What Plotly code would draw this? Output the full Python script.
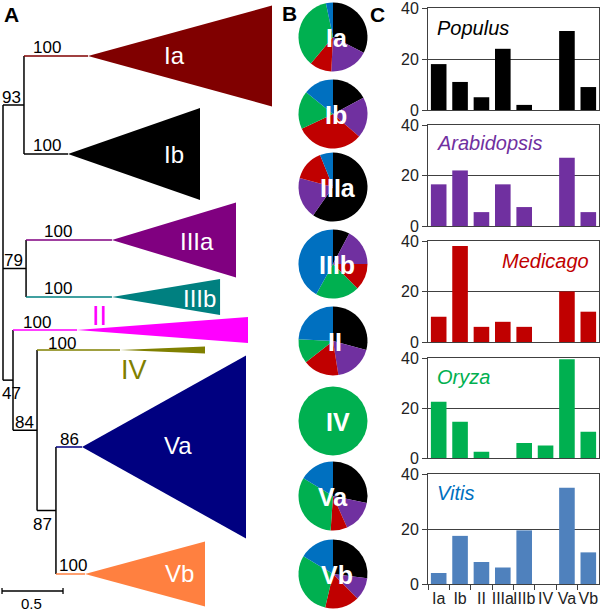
import plotly.graph_objects as go

# ---------------- Panel C: bar data (percent) ----------------
categories = ["Ia", "Ib", "II", "IIIa", "IIIb", "IV", "Va", "Vb"]
species = ["Populus", "Arabidopsis", "Medicago", "Oryza", "Vitis"]
populus = [18, 11, 5, 24, 2, 0, 31, 9]
arabidopsis = [16.5, 22, 5.5, 16.5, 7.5, 0, 27, 5.5]
medicago = [10, 38, 6, 8, 6, 0, 20, 12]
oryza = [22.5, 14.5, 2.5, 0, 6, 5, 39.5, 10.5]
vitis = [4, 17.5, 8, 6, 19.5, 0, 35, 11.5]
y_ticks = [0, 20, 40]

# ---------------- Panel B: pie data (share per clade, %) ----------------
pie_clades = ["Ia", "Ib", "IIIa", "IIIb", "II", "IV", "Va", "Vb"]
pie_populus = [32.5, 17.2, 59.7, 7.8, 29.2, 0, 28.3, 27.0]
pie_arabidopsis = [18.3, 19.2, 19.4, 17.2, 18.3, 0, 15.0, 10.6]
pie_medicago = [10.3, 31.7, 14.7, 12.5, 16.9, 0, 7.8, 16.1]
pie_oryza = [35.6, 17.8, 0, 20.6, 11.4, 100, 32.5, 30.0]
pie_vitis = [3.3, 14.2, 6.1, 41.9, 24.2, 0, 16.4, 16.4]

# ---------------- Panel A: tree data ----------------
clade_names = ["Ia", "Ib", "IIIa", "IIIb", "II", "IV", "Va", "Vb"]
clade_row = [56, 154, 240, 297, 330, 350, 447, 574]          # leaf order positions
clade_spread = [50.5, 46, 37.5, 18, 13, 3.5, 91.5, 32.5]      # clade size (triangle half-width)
clade_stem_depth = [0.697, 0.533, 0.893, 0.893, 0.607, 0.959, 0.648, 0.672]
clade_tip_depth = [2.205, 1.615, 1.910, 1.779, 2.008, 1.656, 1.992, 1.656]
clade_support = [100, 100, 100, 100, 100, 100, 86, 100]
node_names = ["root", "n93", "n79", "n47", "n84", "n87"]
node_depth = [0.0, 0.172, 0.189, 0.082, 0.279, 0.434]
node_support = [None, 93, 79, 47, 84, 87]
node_children = {
    "root": ["n93", "n79", "n47"],
    "n93": ["Ia", "Ib"],
    "n79": ["IIIa", "IIIb"],
    "n47": ["II", "n84"],
    "n84": ["IV", "n87"],
    "n87": ["Va", "Vb"],
}
scale_bar = 0.5

# ---------------- styles ----------------
FONT = "Liberation Sans, Arial, sans-serif"
clade_colors = {"Ia": "#800000", "Ib": "#000000", "IIIa": "#800080", "IIIb": "#008080",
                "II": "#FF00FF", "IV": "#808000", "Va": "#000080", "Vb": "#FF8040"}
bar_colors = ["#000000", "#7030A0", "#C00000", "#00B050", "#4F81BD"]
title_colors = ["#000000", "#7030A0", "#C00000", "#00B050", "#0070C0"]
pie_colors = ["#000000", "#7030A0", "#C00000", "#00B050", "#0070C0"]

W, H = 600, 611
fig = go.Figure()

# ---- tree geometry ----
depth = dict(zip(node_names, node_depth))
ypos = dict(zip(clade_names, clade_row))
for i, c in enumerate(clade_names):
    depth[c] = clade_stem_depth[i]


def node_y(n):
    if n in ypos:
        return ypos[n]
    ch = node_children[n]
    ys = [node_y(c) for c in ch]
    val = (ys[0] + ys[-1]) / 2
    ypos[n] = val
    return val


for n in node_names:
    node_y(n)

bx, by = [], []
stems = {}
for n in node_names:
    ch = node_children[n]
    ys = [ypos[c] for c in ch]
    bx += [depth[n], depth[n], None]
    by += [min(ys), max(ys), None]
    for c in ch:
        if c in clade_names:
            stems[c] = ([depth[n], depth[c]], [ypos[c], ypos[c]])
        else:
            bx += [depth[n], depth[c], None]
            by += [ypos[c], ypos[c], None]

fig.add_trace(go.Scatter(x=bx, y=by, mode="lines", line=dict(color="black", width=1.5),
                         hoverinfo="skip", showlegend=False, xaxis="x", yaxis="y"))
for i, c in enumerate(clade_names):
    sx, sy = stems[c]
    fig.add_trace(go.Scatter(x=sx, y=sy, mode="lines", line=dict(color=clade_colors[c], width=1.5),
                             hoverinfo="skip", showlegend=False, xaxis="x", yaxis="y"))
    a, t, y, h = clade_stem_depth[i], clade_tip_depth[i], clade_row[i], clade_spread[i]
    fig.add_trace(go.Scatter(x=[a, t, t, a], y=[y, y - h, y + h, y], mode="lines", fill="toself",
                             fillcolor=clade_colors[c], line=dict(width=0, color=clade_colors[c]),
                             hoverinfo="skip", showlegend=False, xaxis="x", yaxis="y"))

# scale bar
sb_x0, sb_y = -0.008, 591
fig.add_trace(go.Scatter(x=[sb_x0, sb_x0, None, sb_x0, sb_x0 + scale_bar, None,
                            sb_x0 + scale_bar, sb_x0 + scale_bar],
                         y=[sb_y - 3, sb_y + 3, None, sb_y, sb_y, None, sb_y - 3, sb_y + 3],
                         mode="lines", line=dict(color="black", width=1.3),
                         hoverinfo="skip", showlegend=False, xaxis="x", yaxis="y"))

annotations = []


def ann(text, x, y, size, color="black", xref="x", yref="y", xanchor="center", yanchor="middle"):
    annotations.append(dict(text=text, x=x, y=y, xref=xref, yref=yref, showarrow=False,
                            xanchor=xanchor, yanchor=yanchor,
                            font=dict(family=FONT, size=size, color=color)))


# clade support labels (positions in tree units)
support_pos = {"Ia": (0.361, 47), "Ib": (0.361, 145), "IIIa": (0.451, 231), "IIIb": (0.451, 288),
               "II": (0.279, 322), "IV": (0.484, 343), "Va": (0.549, 439), "Vb": (0.574, 565)}
for i, c in enumerate(clade_names):
    x, y = support_pos[c]
    ann(str(clade_support[i]), x, y, 17)
node_label_pos = {"n93": (0.066, 97), "n79": (0.082, 260), "n47": (0.066, 393),
                  "n84": (0.18, 422), "n87": (0.32, 524)}
for n, s in zip(node_names, node_support):
    if s is not None:
        x, y = node_label_pos[n]
        ann(str(s), x, y, 17)

# clade names
clade_label_pos = {"Ia": (1.402, 55), "Ib": (1.402, 154), "IIIa": (1.590, 241), "IIIb": (1.607, 298),
                   "Va": (1.434, 445), "Vb": (1.443, 573)}
for c, (x, y) in clade_label_pos.items():
    ann(c, x, y, 24, "white")
ann("II", 0.795, 316, 27, clade_colors["II"])
ann("IV", 1.074, 370, 27, clade_colors["IV"])
ann(str(scale_bar), 0.23, 603, 15)

# panel letters
ann("<b>A</b>", 11 / W, 1 - 15 / H, 21, xref="paper", yref="paper")
ann("<b>B</b>", 289 / W, 1 - 13 / H, 21, xref="paper", yref="paper")
ann("<b>C</b>", 377 / W, 1 - 14 / H, 21, xref="paper", yref="paper")

# ---- pies ----
pie_series = [pie_populus, pie_arabidopsis, pie_medicago, pie_oryza, pie_vitis]
pie_centers = [37, 114, 187, 264, 341, 421, 496, 574]
pie_label_dx = [4, 3, 5, 4, 2, 5, 0, 4]
pie_cx, pie_r = 333, 34.5
for k, c in enumerate(pie_clades):
    vals = [s[k] for s in pie_series]
    cy = pie_centers[k]
    fig.add_trace(go.Pie(values=vals, labels=species, sort=False, direction="clockwise", rotation=0,
                         marker=dict(colors=pie_colors, line=dict(width=0)), textinfo="none",
                         hoverinfo="skip", showlegend=False, automargin=False,
                         domain=dict(x=[(pie_cx - pie_r) / W, (pie_cx + pie_r) / W],
                                     y=[1 - (cy + pie_r) / H, 1 - (cy - pie_r) / H])))
    ann("<b>%s</b>" % c, (pie_cx + pie_label_dx[k]) / W, 1 - (cy + 1) / H, 25, "white",
        xref="paper", yref="paper")

# ---- bars ----
bar_series = [populus, arabidopsis, medicago, oryza, vitis]
bar_top = [8, 125, 241, 358, 474]
bar_bottom = [110, 226, 342, 458, 584]
title_pos = [(0.041, 0.80, "left"), (0.041, 0.82, "left"), (0.953, 0.80, "right"),
             (0.041, 0.81, "left"), (0.041, 0.83, "left")]
x_dom = [428 / W, 599 / W]
layout_axes = {}
for i, sp in enumerate(species):
    n = i + 2
    fig.add_trace(go.Bar(x=categories, y=bar_series[i], marker=dict(color=bar_colors[i], line=dict(width=0)),
                         showlegend=False, hoverinfo="skip", xaxis="x%d" % n, yaxis="y%d" % n))
    last = i == len(species) - 1
    layout_axes["xaxis%d" % n] = dict(
        domain=x_dom, anchor="y%d" % n, type="category", categoryorder="array", categoryarray=categories,
        showline=True, mirror=True, linecolor="#404040", linewidth=1, automargin=False,
        showticklabels=last, ticks="outside" if last else "", tickson="boundaries", ticklen=5,
        tickcolor="#404040", tickangle=0, tickfont=dict(family=FONT, size=16, color="#222"),
        ticklabeloverflow="allow", showgrid=False, fixedrange=True)
    layout_axes["yaxis%d" % n] = dict(
        domain=[1 - bar_bottom[i] / H, 1 - bar_top[i] / H], anchor="x%d" % n, range=[0, 40],
        tickvals=y_ticks, ticks="outside", ticklen=5, tickcolor="#404040", automargin=False,
        showline=True, mirror=True, linecolor="#404040", linewidth=1, ticklabeloverflow="allow",
        showgrid=True, gridcolor="#404040", gridwidth=1, zeroline=False,
        tickfont=dict(family=FONT, size=16, color="#222"), fixedrange=True)
    tx, ty, anc = title_pos[i]
    ann("<i>%s</i>" % sp, tx, ty, 20, title_colors[i], xref="x%d domain" % n, yref="y%d domain" % n,
        xanchor=anc)

fig.update_layout(
    width=W, height=H, margin=dict(l=0, r=0, t=0, b=0, pad=0, autoexpand=False),
    paper_bgcolor="white", plot_bgcolor="white",
    bargap=0.27, showlegend=False,
    xaxis=dict(domain=[0, 1], range=[-3 / 122, 597 / 122], visible=False, fixedrange=True,
               automargin=False),
    yaxis=dict(domain=[0, 1], range=[H, 0], visible=False, fixedrange=True, automargin=False),
    annotations=annotations,
    **layout_axes,
)
fig.write_html("out.html", config={"displayModeBar": False},
               post_script="document.body.style.margin='0';document.body.style.overflow='hidden';")
